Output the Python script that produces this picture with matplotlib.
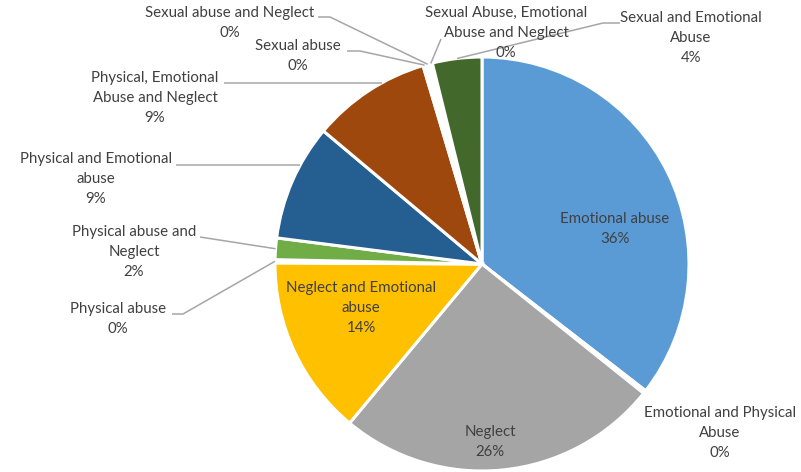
import numpy as np
import matplotlib.pyplot as plt

plt.rcParams['font.family'] = ['Lato', 'DejaVu Sans']

# data (percent of cases)
categories = ['Emotional abuse', 'Emotional and Physical Abuse', 'Neglect',
              'Neglect and Emotional abuse', 'Physical abuse',
              'Physical abuse and Neglect', 'Physical and Emotional abuse',
              'Physical, Emotional Abuse and Neglect', 'Sexual abuse',
              'Sexual abuse and Neglect', 'Sexual Abuse, Emotional Abuse and Neglect',
              'Sexual and Emotional Abuse']
values = [35.9, 0, 25.6, 14.2, 0, 1.7, 9.2, 9.4, 0, 0, 0, 3.9]
label_text = ['Emotional abuse', 'Emotional and Physical\nAbuse', 'Neglect',
              'Neglect and Emotional\nabuse', 'Physical abuse',
              'Physical abuse and\nNeglect', 'Physical and Emotional\nabuse',
              'Physical, Emotional\nAbuse and Neglect', 'Sexual abuse',
              'Sexual abuse and Neglect', 'Sexual Abuse, Emotional\nAbuse and Neglect',
              'Sexual and Emotional\nAbuse']

colors = ['#5B9BD5', '#ED7D31', '#A5A5A5', '#FFC000', '#4472C4', '#70AD47',
          '#255E91', '#9E480E', '#636363', '#997300', '#264478', '#43682B']

W, H = 801, 472
cx, cy, r = 482, 264, 207   # pixel coords, y from top

def py(y):
    return H - y

# label layout in pixel coords (y from top): centre of text, then leader path
# (points from the text towards the pie; the last one is added on the rim)
layout = {
    0: dict(xy=(615, 229), lead=None),
    1: dict(xy=(720, 433), lead=None),
    2: dict(xy=(490, 442), lead=None),
    3: dict(xy=(361, 308), lead=None),
    4: dict(xy=(118, 319), lead=[(172, 314), (183, 314)]),
    5: dict(xy=(134, 252), lead=[(200, 237)]),
    6: dict(xy=(96, 179), lead=[(176, 165)]),
    7: dict(xy=(155, 98), lead=[(224, 83)]),
    8: dict(xy=(298, 56), lead=[(347, 51), (360, 51)]),
    9: dict(xy=(230, 23), lead=[(318, 17), (330, 17)]),
    10: dict(xy=(506, 33), lead=[(441, 39)]),
    11: dict(xy=(691, 38), lead=[(620, 23), (603, 23)]),
}

fig = plt.figure(figsize=(W / 100, H / 100), dpi=100)
ax = fig.add_axes([0, 0, 1, 1])

# empty categories still leave a thin white gap, as in the original
shown = [v if v > 0 else 0.25 for v in values]
face = [c if v > 0 else 'white' for c, v in zip(colors, values)]

wedges, _ = ax.pie(shown, colors=face, startangle=90, counterclock=False,
                   center=(cx, py(cy)), radius=r,
                   wedgeprops=dict(edgecolor='white', linewidth=2.2))

total = sum(values)
txt_color = '#404040'
for i, w in enumerate(wedges):
    pct = round(values[i] / total * 100)
    lay = layout[i]
    x, y = lay['xy']
    ax.text(x, py(y), f'{label_text[i]}\n{pct}%', ha='center', va='center',
            fontsize=10.8, color=txt_color, linespacing=1.58)
    if lay['lead'] is not None:
        pts = [(px, py(pyy)) for px, pyy in lay['lead']]
        # end on the rim level with the last point if that hits this wedge
        lx, ly = pts[-1]
        dy = ly - py(cy)
        end = None
        if abs(dy) < r and values[i] > 0:
            ang = np.degrees(np.arctan2(dy, -np.sqrt(r ** 2 - dy ** 2))) % 360
            lo, hi = sorted((w.theta1 % 360, w.theta2 % 360))
            if lo <= ang <= hi:
                end = (cx + r * np.cos(np.radians(ang)), ly)
        if end is None:
            ang = np.deg2rad((w.theta1 + w.theta2) / 2)
            end = (cx + r * np.cos(ang), py(cy) + r * np.sin(ang))
        xs, ys = zip(*(pts + [end]))
        ax.plot(xs, ys, color='#A6A6A6', lw=1.1, solid_capstyle='butt')

ax.set_xlim(0, W)
ax.set_ylim(0, H)
ax.set_aspect('equal')
ax.axis('off')

fig.savefig('out.png', dpi=100)
